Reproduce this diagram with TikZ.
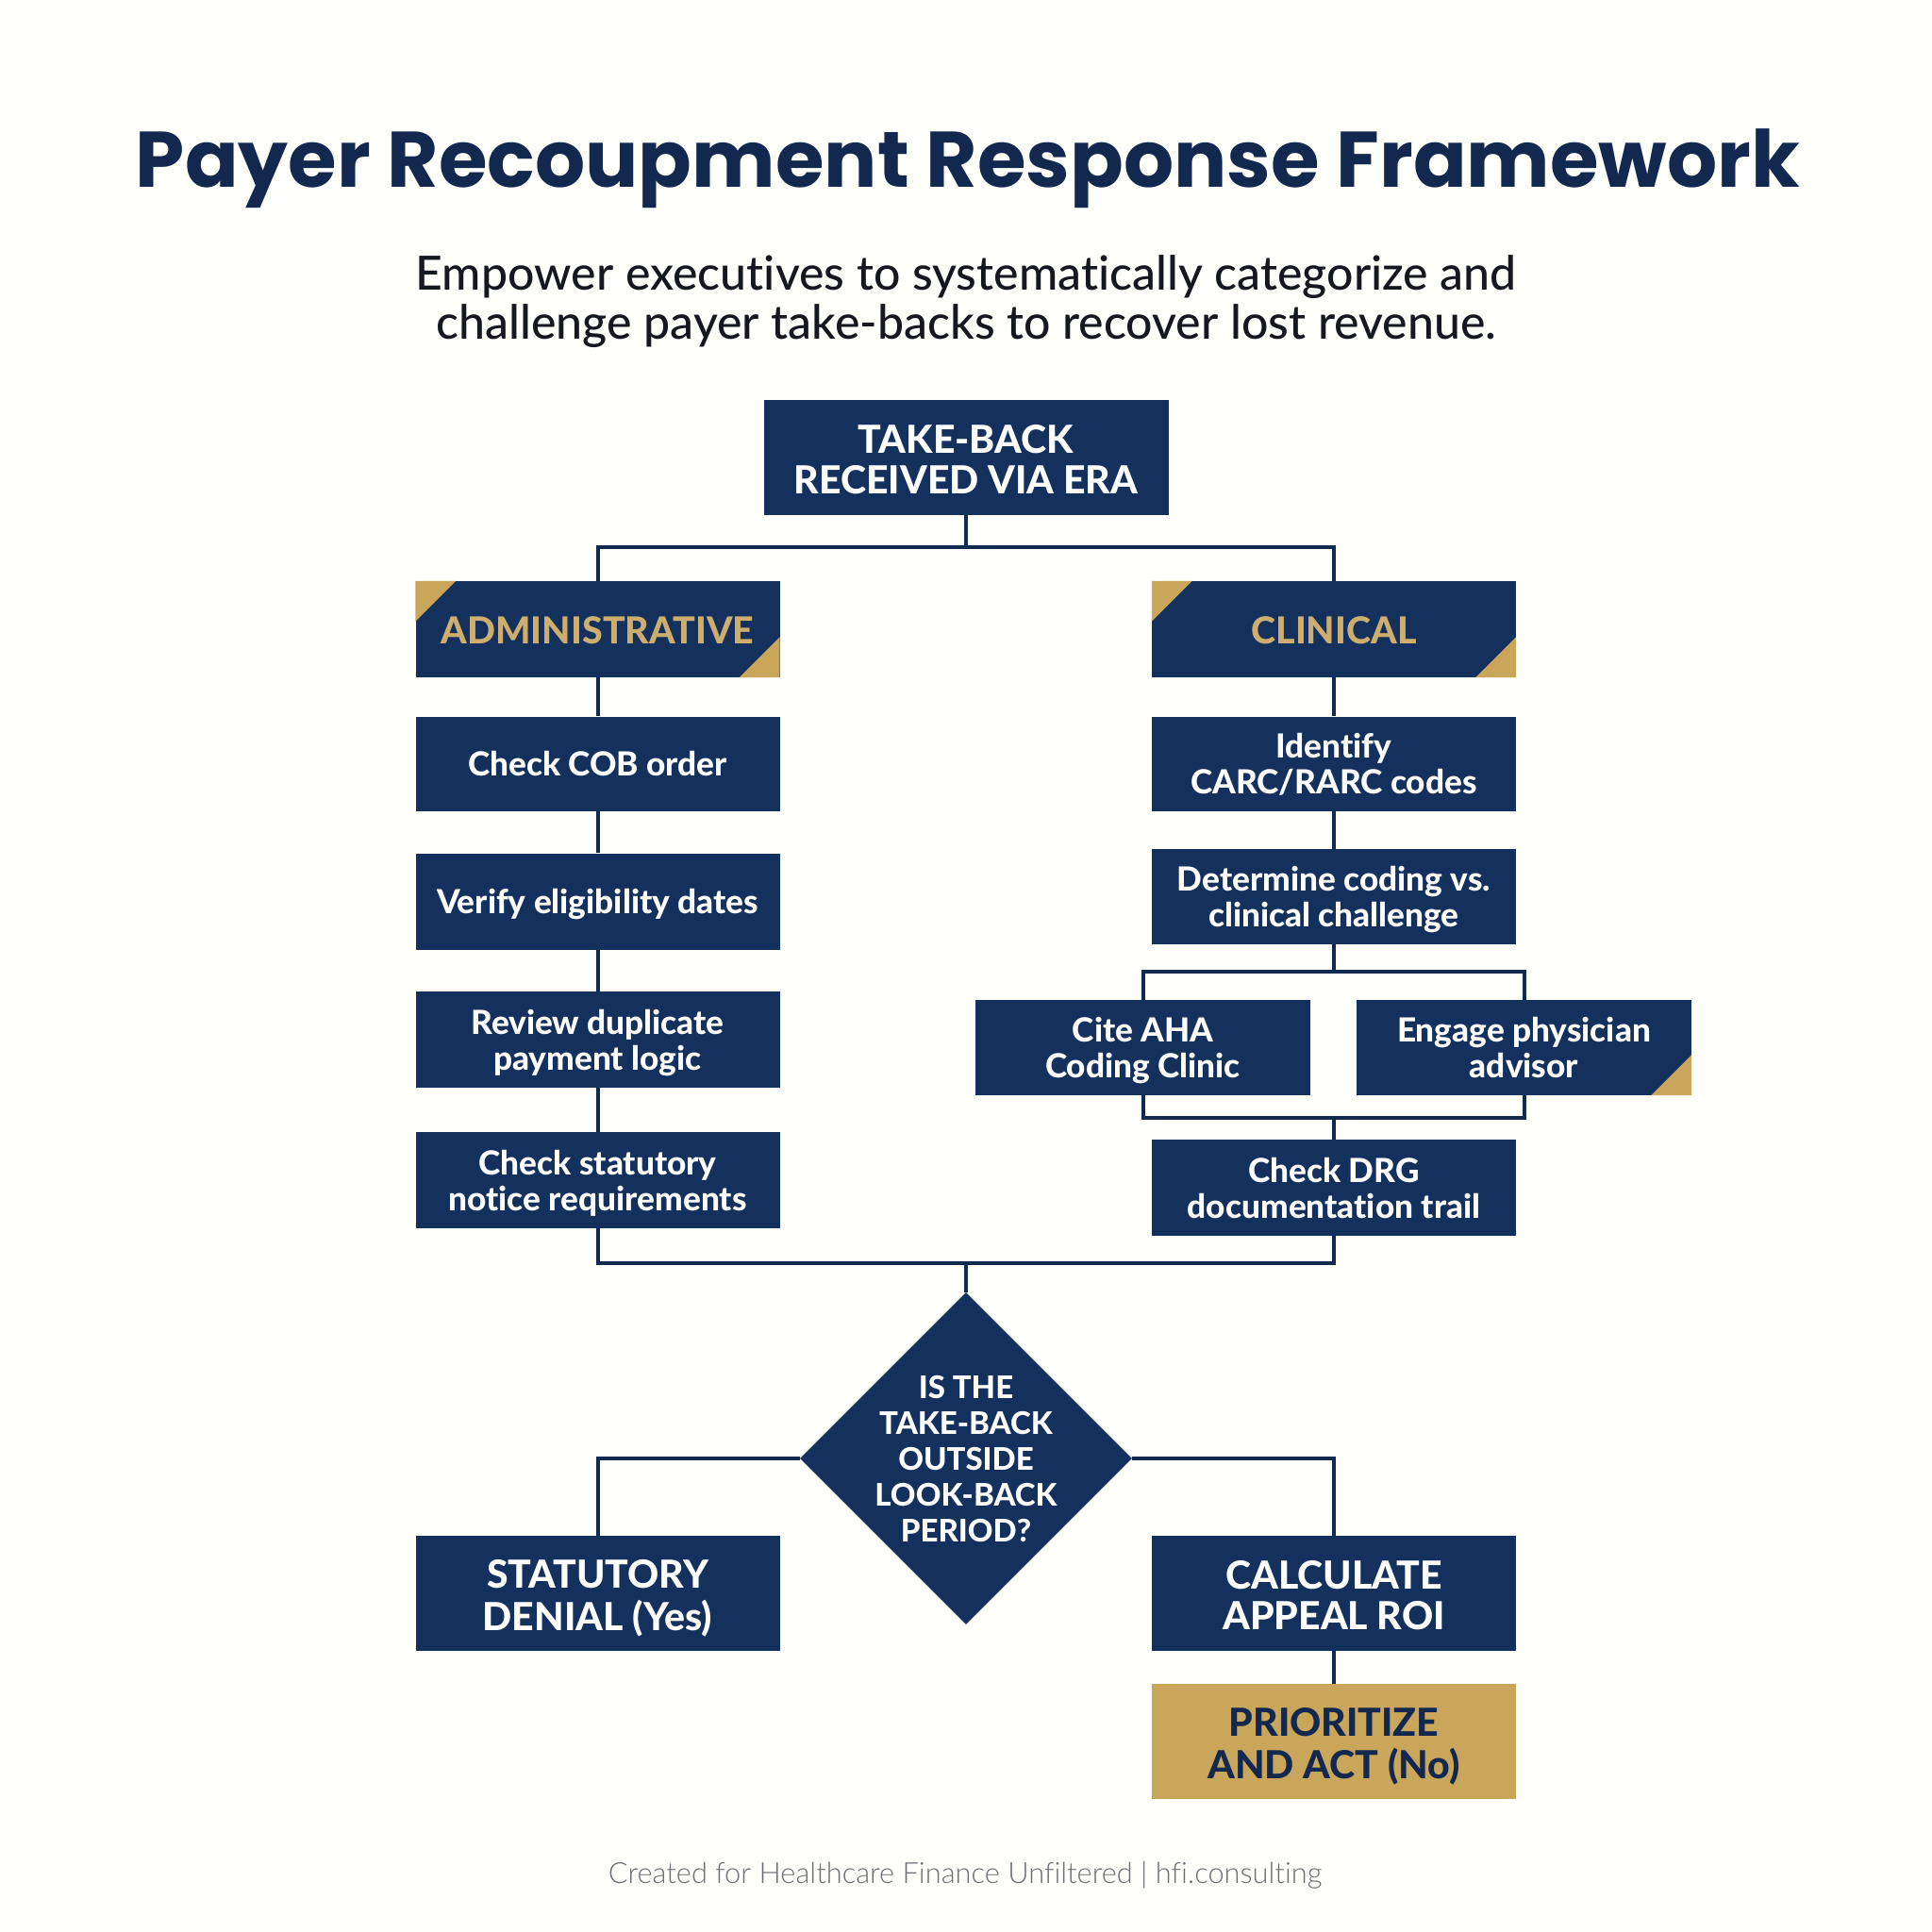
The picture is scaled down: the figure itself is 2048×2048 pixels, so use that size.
\documentclass[tikz,border=0pt]{standalone}
\usepackage{fontspec}
\setmainfont{Lato}[Ligatures=NoCommon]
\newfontfamily\titlef{Poppins}
\newfontfamily\lightf{Lato Light}[Ligatures=NoCommon]
\newfontfamily\medf{Lato Medium}[Ligatures=NoCommon]
\newfontfamily\heavyf{Lato Heavy}[Ligatures=NoCommon]
\usetikzlibrary{shapes.geometric}
\definecolor{navy}{HTML}{14305C}
\definecolor{titlenavy}{HTML}{12284E}
\definecolor{linenavy}{HTML}{102A50}
\definecolor{gold}{HTML}{C9A659}
\definecolor{goldtext}{HTML}{CDAE6E}
\definecolor{subtext}{HTML}{16181F}
\definecolor{foot}{HTML}{6B6F75}
\newcommand{\fsz}[2]{\fontsize{#1}{#2}\selectfont}
\newcommand{\ctext}[2]{\raisebox{-#1}[0pt][0pt]{\begin{tabular}{@{}c@{}}#2\end{tabular}}}
\newcommand{\stext}[1]{\ctext{12pt}{#1}}
\newcommand{\ctxt}[1]{\ctext{14.5pt}{#1}}
\tikzset{
  x=1pt,y=-1pt,
  nbox/.style={rectangle,fill=navy,text=white,inner sep=0pt,font=\heavyf\fsz{35.2}{38}},
  wide/.style={minimum width=386pt,minimum height=102pt},
  med/.style={minimum width=355pt,minimum height=101pt},
  bigtext/.style={font=\heavyf\fsz{41}{43}},
  toptext/.style={font=\heavyf\fsz{41}{43}},
  cat/.style={text=goldtext,font=\heavyf\fsz{39.4}{43}},
  conn/.style={draw=linenavy,line width=4pt,line join=miter},
  corner/.style={fill=gold},
}
\begin{document}
\begin{tikzpicture}
\useasboundingbox (0,0) rectangle (2048,2048);
\fill[white!99!yellow] (0,0) rectangle (2048,2048);

\node[text=titlenavy,font=\titlef\bfseries\fsz{83.6}{90},anchor=center,inner sep=0pt] (title) at (1026,179) {Payer Recoupment Response Framework};
\node[text=subtext,font=\medf\fsz{50}{52},align=center,inner sep=0pt] (sub) at (1024,320) {Empower executives to systematically categorize and\\challenge payer take-backs to recover lost revenue.};

\node[nbox,toptext,minimum width=429pt,minimum height=122pt] (top) at (1024,485) {\ctxt{TAKE-BACK\\RECEIVED VIA ERA}};
\node[nbox,wide,cat] (adm) at (633.5,667) {\ctext{13pt}{ADMINISTRATIVE}};
\node[nbox,wide,cat] (clin) at (1414,667) {\ctext{13pt}{CLINICAL}};

\node[nbox,wide,minimum height=100pt] (cob) at (633.5,809.5) {\stext{Check COB order}};
\node[nbox,wide] (elig) at (633.5,955.5) {\stext{Verify eligibility dates}};
\node[nbox,wide] (dup) at (633.5,1102) {\stext{Review duplicate\\payment logic}};
\node[nbox,wide] (stat) at (633.5,1251) {\stext{Check statutory\\notice requirements}};

\node[nbox,wide,minimum height=100pt] (carc) at (1414,809.5) {\stext{Identify\\CARC/RARC codes}};
\node[nbox,wide,minimum height=101pt] (det) at (1414,950.5) {\stext{Determine coding vs.\\clinical challenge}};
\node[nbox,med] (aha) at (1211.5,1110.5) {\stext{Cite AHA\\Coding Clinic}};
\node[nbox,med] (phys) at (1615.5,1110.5) {\stext{Engage physician\\advisor}};
\node[nbox,wide] (drg) at (1414,1259) {\stext{Check DRG\\documentation trail}};

\node[diamond,fill=navy,aspect=1,inner sep=0pt,minimum width=352pt,minimum height=352pt] (dec) at (1024,1546) {};
\node[text=white,inner sep=0pt,font=\heavyf\fsz{33}{38}] (dectext) at (dec.center) {\ctext{11pt}{IS THE\\TAKE-BACK\\OUTSIDE\\LOOK-BACK\\PERIOD?}};

\node[nbox,bigtext,minimum width=386pt,minimum height=122pt] (deny) at (633.5,1689) {\ctxt{STATUTORY\\DENIAL (Yes)}};
\node[nbox,bigtext,minimum width=386pt,minimum height=122pt] (roi) at (1414,1689) {\ctxt{CALCULATE\\APPEAL ROI}};
\node[nbox,bigtext,fill=gold,text=titlenavy,minimum width=386pt,minimum height=122pt] (act) at (1414,1846) {\ctxt{PRIORITIZE\\AND ACT (No)}};

\node[text=foot,font=\lightf\fsz{30.8}{34},inner sep=0pt] (footer) at (1023,1988) {Created for Healthcare Finance Unfiltered | hfi.consulting};

% corner accents
\fill[corner] (adm.north west) -- ++(43,0) -- ++(-43,43) -- cycle;
\fill[corner] (adm.south east) -- ++(-43,0) -- ++(43,-43) -- cycle;
\fill[corner] (clin.north west) -- ++(43,0) -- ++(-43,43) -- cycle;
\fill[corner] (clin.south east) -- ++(-43,0) -- ++(43,-43) -- cycle;
\fill[corner] (phys.south east) -- ++(-43,0) -- ++(43,-43) -- cycle;

% connectors
\coordinate (busA) at (1024,580);
\coordinate (busB) at (1414,1030);
\coordinate (busC) at (1414,1185);
\coordinate (busD) at (1024,1339);
\draw[conn] (top.south) -- (busA);
\draw[conn] (adm.north) |- (busA) -| (clin.north);
\draw[conn] (adm) -- (cob);
\draw[conn] (cob) -- (elig);
\draw[conn] (elig) -- (dup);
\draw[conn] (dup) -- (stat);
\draw[conn] (clin) -- (carc);
\draw[conn] (carc) -- (det);
\draw[conn] (det.south) -- (busB);
\draw[conn] (aha.north) |- (busB) -| (phys.north);
\draw[conn] (aha.south) |- (busC) -| (phys.south);
\draw[conn] (busC) -- (drg.north);
\draw[conn] (stat.south) |- (busD) -| (drg.south);
\draw[conn] (busD) -- (dec.north);
\draw[conn] (dec.west) -| (deny.north);
\draw[conn] (dec.east) -| (roi.north);
\draw[conn] (roi) -- (act);
\end{tikzpicture}
\end{document}
